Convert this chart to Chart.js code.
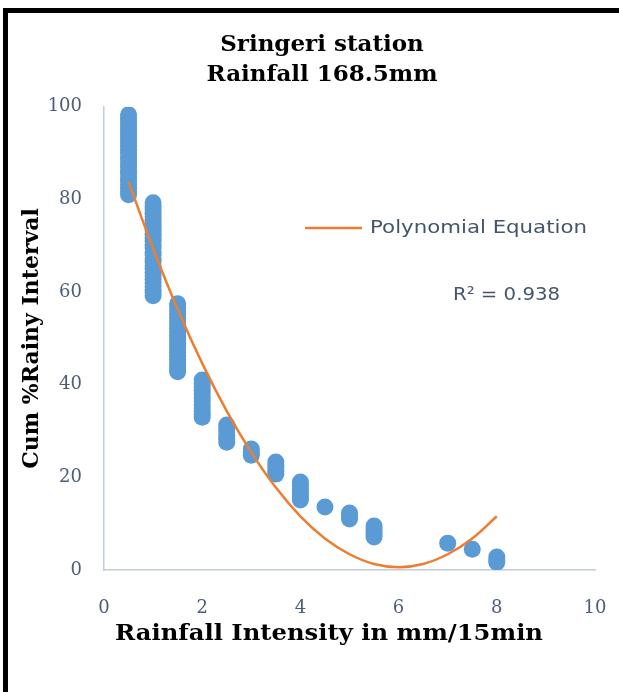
<!DOCTYPE html>
<html>
<head>
<meta charset="utf-8">
<script src="https://cdn.jsdelivr.net/npm/chart.js@4.4.1/dist/chart.umd.min.js"></script>
<style>
    html, body { margin: 0; padding: 0; background: #ffffff; }
    #wrap { position: relative; width: 619px; height: 692px; overflow: hidden; }
    #frame {
        position: absolute; left: 3px; top: 8px; width: 700px; height: 800px;
        border-left: 5px solid #000; border-top: 5px solid #000;
    }
    #myChart { position: absolute; left: 0; top: 0; }
</style>
</head>
<body>
<div id="wrap">
    <div id="frame"></div>
    <canvas id="myChart" width="619" height="692"></canvas>
</div>
<script>
// rainfall intensity classes (mm/15min) and the cum % rainy interval read at each one
const intensityLevels = [0.5, 1, 1.5, 2, 2.5, 3, 3.5, 4, 4.5, 5, 5.5, 7, 7.5, 8];
const cumRainyPct = [
    [98.3, 97.5, 96.8, 96, 95.2, 94.5, 93.7, 93, 92.2, 91.5, 90.7, 90, 89.2, 88.5, 87.7, 87, 86.2, 85.5, 84.7, 84, 83.2, 82.5, 81.7, 81],
    [79.3, 78.5, 77.8, 77, 76.2, 75.5, 74.7, 74, 73.2, 72.5, 71.7, 71, 70.2, 69.5, 68.7, 68, 67.2, 66.5, 65.7, 65, 64.2, 63.5, 62.7, 62, 61.2, 60.5, 59.8, 59.2],
    [57.5, 56.8, 56, 55.2, 54.5, 53.7, 53, 52.2, 51.5, 50.7, 50, 49.2, 48.5, 47.7, 47, 46.2, 45.5, 44.7, 44, 43.4, 42.8],
    [41, 40.3, 39.5, 38.8, 38, 37.2, 36.5, 35.7, 35, 34.2, 33.6, 33],
    [31.3, 30.6, 29.8, 29, 28.3, 27.6],
    [26.1, 25.4, 24.8],
    [23.3, 22.6, 22, 21.3, 20.7],
    [19, 18.3, 17.6, 16.9, 16.3, 15.7, 15.1],
    [13.6],
    [12.3, 11.6, 11],
    [9.5, 8.9, 8.3, 7.7, 7.1],
    [5.8],
    [4.5],
    [2.8, 2.2, 1.7]
];

// polynomial trendline
const trendX = [0.5, 1, 1.5, 2, 2.5, 3, 3.5, 4, 4.5, 5, 5.5, 6, 6.5, 7, 7.5, 8];
const trendY = [83.8, 69.4, 56.3, 44.6, 34.3, 25.4, 17.8, 11.6, 6.8, 3.4, 1.3, 0.6, 1.3, 3.4, 6.8, 11.6];

const xTicks = [0, 2, 4, 6, 8, 10];
const yTicks = [0, 20, 40, 60, 80, 100];

const blue = '#5b9bd5';
const orange = '#ed7d31';
const tickColor = '#4e5d77';
const axisColor = '#c0cbdb';

const points = [];
intensityLevels.forEach(function (x, i) {
    cumRainyPct[i].forEach(function (y) {
        points.push({ x: x, y: y });
    });
});
const trend = trendX.map(function (x, i) {
    return { x: x, y: trendY[i] };
});

// text stretched to a given width, the original fonts are wider than ours
function fitText(ctx, text, x, y, width) {
    const sx = width / ctx.measureText(text).width;
    ctx.save();
    ctx.translate(x, y);
    ctx.scale(sx, 1);
    ctx.fillText(text, 0, 0);
    ctx.restore();
}

// legend entry, R2 label and the x axis title (sits left of centre in the original)
const notePlugin = {
    id: 'notes',
    afterDraw: function (chart) {
        const ctx = chart.ctx;
        ctx.save();
        ctx.strokeStyle = orange;
        ctx.lineWidth = 2.5;
        ctx.beginPath();
        ctx.moveTo(305, 228);
        ctx.lineTo(362, 228);
        ctx.stroke();
        ctx.fillStyle = '#44546a';
        ctx.font = '18px "DejaVu Sans"';
        ctx.textAlign = 'left';
        ctx.textBaseline = 'middle';
        fitText(ctx, 'Polynomial Equation', 370, 228, 217);
        fitText(ctx, 'R² = 0.938', 453, 295, 107);

        ctx.fillStyle = '#000000';
        ctx.font = 'bold 23px "DejaVu Serif"';
        fitText(ctx, 'Rainfall Intensity in mm/15min', 115, 634, 428);
        ctx.restore();
    }
};

function drawChart() {
    const chartElement = document.getElementById('myChart').getContext('2d');

    window.myChart = new Chart(chartElement, {
        type: 'scatter',
        data: {
            datasets: [
                {
                    label: 'Polynomial Equation',
                    data: trend,
                    showLine: true,
                    borderColor: orange,
                    borderWidth: 2.5,
                    pointRadius: 0,
                    tension: 0.4,
                    order: 0
                },
                {
                    label: 'Cum % Rainy Interval',
                    data: points,
                    backgroundColor: blue,
                    borderWidth: 0,
                    pointRadius: 8.5,
                    order: 1
                }
            ]
        },
        options: {
            responsive: false,
            animation: false,
            layout: {
                padding: { left: 27, right: 2, top: 10, bottom: 42 }
            },
            plugins: {
                legend: { display: false },
                tooltip: { enabled: false },
                title: {
                    display: true,
                    text: ['Sringeri station', 'Rainfall 168.5mm'],
                    color: '#000000',
                    font: { family: '"DejaVu Serif"', size: 23, weight: 'bold', lineHeight: 1.3 },
                    padding: { top: 20, bottom: 17 }
                }
            },
            scales: {
                x: {
                    min: 0,
                    max: 10,
                    afterBuildTicks: function (scale) {
                        scale.ticks = xTicks.map(function (v) { return { value: v }; });
                    },
                    afterFit: function (scale) {
                        scale.height = 80;
                        scale.paddingLeft = 0;
                        scale.paddingRight = 24;
                    },
                    grid: { display: false, drawTicks: false },
                    border: { color: axisColor, width: 1.5 },
                    ticks: {
                        color: tickColor,
                        padding: 28,
                        maxRotation: 0,
                        font: { family: '"DejaVu Serif"', size: 18 }
                    },
                    title: { display: false }
                },
                y: {
                    min: 0,
                    max: 100,
                    afterBuildTicks: function (scale) {
                        scale.ticks = yTicks.map(function (v) { return { value: v }; });
                    },
                    afterFit: function (scale) {
                        scale.width = 77;
                    },
                    grid: { display: false, drawTicks: false },
                    border: { color: axisColor, width: 1.5 },
                    ticks: {
                        color: tickColor,
                        padding: 22,
                        font: { family: '"DejaVu Serif"', size: 18 }
                    },
                    title: {
                        display: true,
                        text: 'Cum %Rainy Interval',
                        color: '#000000',
                        font: { family: '"DejaVu Serif"', size: 22, weight: 'bold' },
                        padding: { top: -8, bottom: 0 }
                    }
                }
            }
        },
        plugins: [notePlugin]
    });
}

document.addEventListener('DOMContentLoaded', function () {
    drawChart();
});
</script>
</body>
</html>
